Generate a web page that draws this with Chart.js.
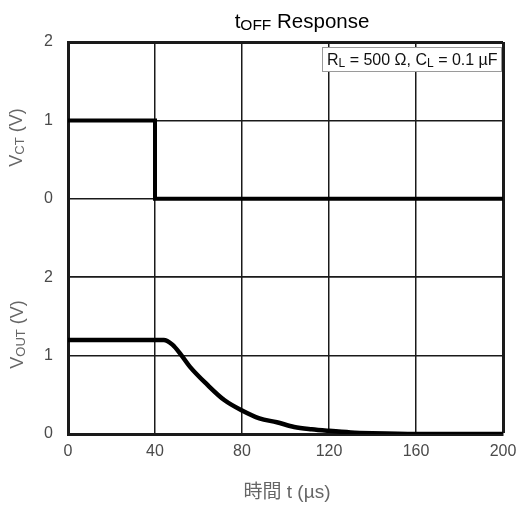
<!DOCTYPE html>
<html><head><meta charset="utf-8">
<script src="https://cdn.jsdelivr.net/npm/chart.js@4.4.1/dist/chart.umd.min.js"></script>
<style>html,body{margin:0;padding:0;background:#fff;overflow:hidden}#wrap{width:517px;height:507px}</style>
</head><body><div id="wrap"><canvas id="c" width="517" height="507"></canvas></div>
<script>
// ---- data ----
const timeTicks = [0, 40, 80, 120, 160, 200];
const voltTicks = [0, 1, 2];
const vctTime  = [0, 40, 40, 200];
const vctVolts = [1, 1, 0, 0];
const voutTime  = [0, 44, 48, 52, 56, 64, 72, 80, 88, 96, 104, 112, 120, 130, 140, 160, 200];
const voutVolts = [1.2, 1.2, 1.14, 1.01, 0.86, 0.63, 0.43, 0.30, 0.20, 0.15, 0.09, 0.06, 0.04, 0.02, 0.01, 0, 0];
const titleParts = ['t', 'OFF', ' Response'];
const vctTitleParts = ['V', 'CT', ' (V)'];
const voutTitleParts = ['V', 'OUT', ' (V)'];
const noteParts = ['R', 'L', ' = 500 Ω, ', 'C', 'L', ' = 0.1 µF'];
const xTitleText = '時間 t (µs)';

const FONT = "'Liberation Sans', Arial, sans-serif";
const GRID = '#1a1a1a';

function runsWidth(ctx, runs) {
  let w = 0;
  for (const r of runs) { ctx.font = r.size + 'px ' + FONT; w += ctx.measureText(r.t).width; }
  return w;
}
function drawRuns(ctx, runs, x, y) {
  for (const r of runs) {
    ctx.font = r.size + 'px ' + FONT;
    ctx.fillText(r.t, x, y + (r.dy || 0));
    x += ctx.measureText(r.t).width;
  }
}

const textPlugin = {
  id: 'texts',
  afterDraw(chart) {
    const ctx = chart.ctx;
    ctx.save();
    ctx.textBaseline = 'alphabetic';
    ctx.textAlign = 'left';
    // title
    ctx.fillStyle = '#000';
    let runs = [{t: titleParts[0], size: 20.5}, {t: titleParts[1], size: 15.5, dy: 2.5}, {t: titleParts[2], size: 20.5}];
    let w = runsWidth(ctx, runs);
    drawRuns(ctx, runs, 302 - w / 2, 27.5);
    // y titles
    ctx.fillStyle = '#666';
    const yt = [[vctTitleParts, 137.5, 22], [voutTitleParts, 334.5, 23]];
    for (const [parts, cy, bx] of yt) {
      runs = [{t: parts[0], size: 18}, {t: parts[1], size: 13, dy: 1.5}, {t: parts[2], size: 18}];
      w = runsWidth(ctx, runs);
      ctx.save();
      ctx.translate(bx, cy);
      ctx.rotate(-Math.PI / 2);
      drawRuns(ctx, runs, -w / 2, 0);
      ctx.restore();
    }
    // x title
    ctx.font = "19px 'Liberation Sans', 'Noto Sans CJK JP', sans-serif";
    ctx.textAlign = 'center';
    ctx.fillText(xTitleText, 287, 498);
    ctx.textAlign = 'left';
    // note box
    ctx.fillStyle = '#fff';
    ctx.fillRect(322.5, 47.5, 179, 24);
    ctx.strokeStyle = '#9a9a9a';
    ctx.lineWidth = 1;
    ctx.strokeRect(322.5, 47.5, 179, 24);
    ctx.fillStyle = '#111';
    runs = [
      {t: noteParts[0], size: 16}, {t: noteParts[1], size: 12, dy: 2}, {t: noteParts[2], size: 16},
      {t: noteParts[3], size: 16}, {t: noteParts[4], size: 12, dy: 2}, {t: noteParts[5], size: 16}
    ];
    drawRuns(ctx, runs, 327, 65);
    ctx.restore();
  }
};

const tickFont = {family: FONT, size: 16};
const tickColor = '#4a4a4a';

new Chart(document.getElementById('c'), {
  type: 'line',
  data: {
    datasets: [
      {
        label: 'VCT',
        data: vctTime.map((t, i) => ({x: t, y: vctVolts[i]})),
        yAxisID: 'yCt',
        borderColor: '#000',
        borderWidth: 4,
        pointRadius: 0,
        tension: 0,
        borderJoinStyle: 'miter'
      },
      {
        label: 'VOUT',
        data: voutTime.map((t, i) => ({x: t, y: voutVolts[i]})),
        yAxisID: 'yOut',
        borderColor: '#000',
        borderWidth: 4.5,
        pointRadius: 0,
        cubicInterpolationMode: 'monotone',
        borderJoinStyle: 'round'
      }
    ]
  },
  options: {
    responsive: false,
    animation: false,
    layout: {padding: {top: 42, right: 14, left: 0, bottom: 0}},
    plugins: {legend: {display: false}, tooltip: {enabled: false}, title: {display: false}},
    scales: {
      x: {
        type: 'linear', min: 0, max: 200,
        afterBuildTicks: s => { s.ticks = timeTicks.map(v => ({value: v})); },
        afterFit: s => { s.height = 73; s.paddingRight = 0; s.paddingLeft = 0; },
        ticks: {font: tickFont, color: tickColor, padding: 8, maxRotation: 0},
        grid: {color: GRID, lineWidth: c => (c.tick && c.tick.value === 200) ? 3 : 1.5, drawTicks: false},
        border: {color: GRID, width: 3}
      },
      yOut: {
        type: 'linear', position: 'left', stack: 'v', stackWeight: 2, min: 0, max: 2,
        afterBuildTicks: s => { s.ticks = voltTicks.map(v => ({value: v})); },
        afterFit: s => { s.width = 68; },
        ticks: {font: tickFont, color: tickColor, padding: 15},
        grid: {color: GRID, lineWidth: 1.5, drawTicks: false},
        border: {color: GRID, width: 3}
      },
      yCt: {
        type: 'linear', position: 'left', stack: 'v', stackWeight: 3, min: -1, max: 2,
        afterBuildTicks: s => { s.ticks = [-1].concat(voltTicks).map(v => ({value: v})); },
        afterFit: s => { s.width = 68; },
        ticks: {font: tickFont, color: tickColor, padding: 15, callback: v => v < 0 ? '' : String(v)},
        grid: {color: GRID, lineWidth: c => (c.tick && c.tick.value === 2) ? 3 : 1.5, drawTicks: false},
        border: {color: GRID, width: 3}
      }
    }
  },
  plugins: [textPlugin]
});
</script>
</body></html>
